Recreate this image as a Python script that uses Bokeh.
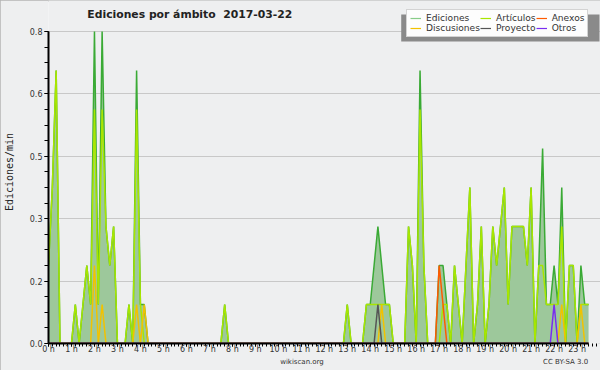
from bokeh.plotting import figure
from bokeh.models import (Range1d, FixedTicker, PrintfTickFormatter, Legend,
                          LegendItem, Label, ColumnDataSource, BoxAnnotation,
                          LinearAxis)
from bokeh.embed import file_html
from bokeh.resources import INLINE

# ---- data: edits per minute, 10-minute bins (index = hour*6 + bin) ----
bin_minutes = list(range(0, 1440, 10))

ediciones = [
    0.2, 0.4, 0.7, 0, 0, 0,        # 0 h
    0, 0.1, 0, 0.1, 0.2, 0.1,      # 1 h
    0.8, 0.1, 0.8, 0.3, 0.2, 0.3,  # 2 h
    0, 0, 0, 0.1, 0, 0.7,          # 3 h
    0.1, 0.1, 0, 0, 0, 0,          # 4 h
    0, 0, 0, 0, 0, 0,              # 5 h
    0, 0, 0, 0, 0, 0,              # 6 h
    0, 0, 0, 0, 0.1, 0,            # 7 h
    0, 0, 0, 0, 0, 0,              # 8 h
    0, 0, 0, 0, 0, 0,              # 9 h
    0, 0, 0, 0, 0, 0,              # 10 h
    0, 0, 0, 0, 0, 0,              # 11 h
    0, 0, 0, 0, 0, 0,              # 12 h
    0.1, 0, 0, 0, 0, 0.1,          # 13 h
    0.1, 0.2, 0.3, 0.2, 0.1, 0.1,  # 14 h
    0, 0, 0, 0, 0.3, 0.2,          # 15 h
    0, 0.7, 0.2, 0, 0, 0,          # 16 h
    0.2, 0.2, 0.1, 0, 0.2, 0.1,    # 17 h
    0, 0.2, 0.4, 0, 0.1, 0.3,      # 18 h
    0, 0.1, 0.3, 0.2, 0.3, 0.4,    # 19 h
    0.1, 0.3, 0.3, 0.3, 0.3, 0.2,  # 20 h
    0.4, 0, 0.2, 0.5, 0.1, 0.1,    # 21 h
    0.2, 0.1, 0.4, 0, 0.2, 0.2,    # 22 h
    0, 0.2, 0.1, 0.1, 0.1, 0.1,    # 23 h
]

articulos = [
    0.2, 0.4, 0.7, 0, 0, 0,
    0, 0.1, 0, 0.1, 0.2, 0.1,
    0.6, 0.1, 0.6, 0.3, 0.2, 0.3,
    0, 0, 0, 0.1, 0, 0.6,
    0.1, 0, 0, 0, 0, 0,
    0, 0, 0, 0, 0, 0,
    0, 0, 0, 0, 0, 0,
    0, 0, 0, 0, 0.1, 0,
    0, 0, 0, 0, 0, 0,
    0, 0, 0, 0, 0, 0,
    0, 0, 0, 0, 0, 0,
    0, 0, 0, 0, 0, 0,
    0, 0, 0, 0, 0, 0,
    0.1, 0, 0, 0, 0, 0.1,
    0.1, 0.1, 0.1, 0.1, 0.1, 0.1,
    0, 0, 0, 0, 0.3, 0.2,
    0, 0.6, 0.2, 0, 0, 0,
    0, 0.1, 0.1, 0, 0.2, 0.1,
    0, 0.2, 0.4, 0, 0.1, 0.3,
    0, 0.1, 0.3, 0.2, 0.3, 0.4,
    0.1, 0.3, 0.3, 0.3, 0.3, 0.2,
    0.4, 0, 0.2, 0.2, 0.1, 0.1,
    0.1, 0.1, 0.3, 0, 0.2, 0.2,
    0, 0.1, 0.1, 0.1, 0.1, 0.1,
]

discusiones = [0] * 144
for i, v in {12: 0.2, 14: 0.1, 23: 0.1, 25: 0.1, 87: 0.1, 134: 0.1, 139: 0.1}.items():
    discusiones[i] = v
anexos = [0] * 144
for i, v in {102: 0.2, 103: 0.1}.items():
    anexos[i] = v
proyecto = [0] * 144
for i, v in {86: 0.1}.items():
    proyecto[i] = v
otros = [0] * 144
for i, v in {132: 0.1}.items():
    otros[i] = v

y_ticks = [0, 0.16, 0.32, 0.48, 0.64, 0.8]
hour_ticks = list(range(24))
x_end = 23.5          # last plotted hour (23:30)
n_shown = 142         # bins up to 23:30

src = ColumnDataSource(dict(
    h=[m / 60 for m in bin_minutes][:n_shown], tot=ediciones[:n_shown],
    art=articulos[:n_shown], dis=discusiones[:n_shown], anx=anexos[:n_shown],
    pro=proyecto[:n_shown], otr=otros[:n_shown]))

PX_H = 23.065   # pixels per hour in the reference
PX_Y = 390.0    # pixels per unit on y

p = figure(width=600, height=370, output_backend="svg", toolbar_location=None,
           title=None,
           x_range=Range1d(0, (600 - 46) / PX_H), y_range=Range1d(0, 343 / PX_Y),
           min_border_left=46, min_border_right=0, min_border_top=0,
           min_border_bottom=27)
p.styles = {"position": "absolute", "left": "0px", "top": "0px",
            "outline": "2px solid #b4b4b4", "outline-offset": "-2px"}

p.background_fill_color = "#eeeff0"
p.border_fill_color = "#eeeff0"
p.outline_line_color = None

# series
p.varea(x="h", y1=0, y2="tot", source=src, fill_color="#9dc89b")
p.line("h", "tot", source=src, line_color="#3aaa35", line_width=1.5)
p.line("h", "art", source=src, line_color="#a8e600", line_width=1.5)
p.line("h", "dis", source=src, line_color="#f2c200", line_width=1.5)
p.line("h", "anx", source=src, line_color="#ff5a00", line_width=1.5)
p.line("h", "pro", source=src, line_color="#555555", line_width=1.5)
p.line("h", "otr", source=src, line_color="#7a2cf0", line_width=1.5)

# axes
p.xaxis.ticker = FixedTicker(ticks=hour_ticks, minor_ticks=[m / 60 for m in bin_minutes])
p.xaxis.formatter = PrintfTickFormatter(format="%d h")
p.xaxis.bounds = (0, x_end)
p.yaxis.ticker = FixedTicker(ticks=y_ticks, minor_ticks=[k * 0.04 for k in range(21)])
p.yaxis.formatter = PrintfTickFormatter(format="%.1f")
p.yaxis.bounds = (0, 0.8)
for ax in (p.xaxis[0], p.yaxis[0]):
    ax.axis_line_color = "#000000"
    ax.axis_line_width = 2
    ax.major_tick_line_color = "#000000"
    ax.minor_tick_line_color = "#000000"
    ax.major_tick_out = 4
    ax.major_tick_in = 0
    ax.minor_tick_out = 4
    ax.minor_tick_in = 0
    ax.major_label_text_font = "DejaVu Sans"
    ax.major_label_text_font_size = "8px"
    ax.major_label_text_color = "#333333"
    ax.major_label_standoff = 2
p.xaxis.major_tick_out = 3
p.xaxis.minor_tick_out = 3
p.xaxis.major_label_standoff = -2
p.yaxis.axis_label = "Ediciones/min"
p.yaxis.axis_label_text_font = "DejaVu Sans Mono"
p.yaxis.axis_label_text_font_size = "10px"
p.yaxis.axis_label_text_font_style = "normal"
p.yaxis.axis_label_text_color = "#222222"
p.yaxis.axis_label_standoff = 12
p.xgrid.grid_line_color = None
p.ygrid.grid_line_color = "#c8c8c8"
p.ygrid.grid_line_width = 1

# footer texts as a tick-less axis under the time axis
foot_pos = [11.03, 22.5]
foot_txt = ["wikiscan.org", "CC BY-SA 3.0"]
foot = LinearAxis(ticker=FixedTicker(ticks=foot_pos, minor_ticks=[]),
                  major_label_overrides=dict(zip(foot_pos, foot_txt)),
                  axis_line_color=None, major_tick_line_color=None,
                  minor_tick_line_color=None, major_tick_out=0, minor_tick_out=0,
                  major_label_standoff=1, major_label_text_font="DejaVu Sans",
                  major_label_text_font_size="7px", major_label_text_color="#333333")
p.add_layout(foot, "below")

# title
p.add_layout(Label(x=(85 - 46) / PX_H, y=(343 - 14) / PX_Y,
                   text="Ediciones por ámbito\u00a0\u00a02017-03-22",
                   text_baseline="middle", text_font="DejaVu Sans",
                   text_font_size="10.8px", text_font_style="bold",
                   text_color="#222222"))

# legend shadow box
p.add_layout(BoxAnnotation(left=(400 - 46) / PX_H, right=(599 - 46) / PX_H,
                           top=(343 - 14) / PX_Y, bottom=(343 - 41) / PX_Y,
                           fill_color="#8a8a8a", fill_alpha=1, line_color=None))

# legend
names = ["Ediciones", "Discusiones", "Artículos", "Proyecto", "Anexos", "Otros"]
colors = ["#88cc88", "#f2c200", "#a8e600", "#555555", "#ff5a00", "#7a2cf0"]
items = []
for n, c in zip(names, colors):
    r = p.line(x=[0, 1], y=[-1, -1], line_color=c, line_width=1.2)
    items.append(LegendItem(label=n, renderers=[r]))

legend = Legend(items=items, location=(358, 306), orientation="vertical", nrows=2,
                label_text_font="DejaVu Sans", label_text_font_size="9.1px",
                label_text_color="#333333", label_height=10, glyph_height=10,
                glyph_width=11, spacing=0, padding=3, margin=0, label_standoff=5,
                border_line_color="#aaaaaa", background_fill_color="#fdfdfd",
                background_fill_alpha=1)
p.add_layout(legend)

open("out.html", "w").write(file_html(p, INLINE))
